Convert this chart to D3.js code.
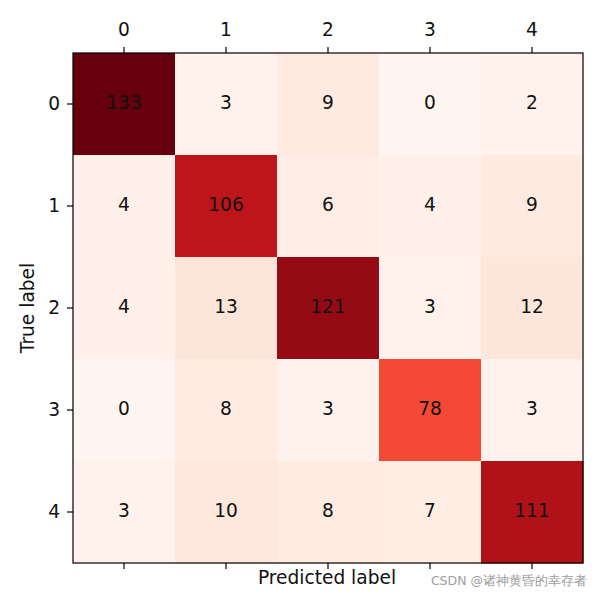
<!DOCTYPE html>
<html>
<head>
<meta charset="utf-8">
<script src="https://cdn.jsdelivr.net/npm/d3@7"></script>
<style>
  html, body { margin: 0; padding: 0; background: #fff; }
  svg { display: block; }
  text { font-family: "DejaVu Sans", sans-serif; }
</style>
</head>
<body>
<svg id="chart" width="603" height="596"></svg>
<script>
const classLabels = ["0", "1", "2", "3", "4"];
const matrix = [
  [133, 3, 9, 0, 2],
  [4, 106, 6, 4, 9],
  [4, 13, 121, 3, 12],
  [0, 8, 3, 78, 3],
  [3, 10, 8, 7, 111]
];
const xTitle = "Predicted label";
const yTitle = "True label";
const watermark = "CSDN @诸神黄昏的幸存者";

const svg = d3.select("#chart");
const plotLeft = 73, plotTop = 53, plotSize = 510;
const fontPx = "18.6px";

const x = d3.scaleBand().domain(classLabels).range([plotLeft, plotLeft + plotSize]);
const y = d3.scaleBand().domain(classLabels).range([plotTop, plotTop + plotSize]);

// matplotlib "Reds" colormap (linear segmented)
const redsStops = ["#fff5f0", "#fee0d2", "#fcbba1", "#fc9272", "#fb6a4a", "#ef3b2c", "#cb181d", "#a50f15", "#67000d"];
const vmax = d3.max(matrix.flat());
const color = d3.scaleLinear()
  .domain(redsStops.map((_, i) => i / (redsStops.length - 1) * vmax))
  .range(redsStops)
  .interpolate(d3.interpolateRgb);

const cells = [];
matrix.forEach((row, i) => row.forEach((v, j) => cells.push({ r: classLabels[i], c: classLabels[j], v })));

svg.append("g").selectAll("rect").data(cells).join("rect")
  .attr("x", d => x(d.c))
  .attr("y", d => y(d.r))
  .attr("width", x.bandwidth() + 0.5)
  .attr("height", y.bandwidth() + 0.5)
  .attr("fill", d => color(d.v));

svg.append("g").selectAll("text").data(cells).join("text")
  .attr("x", d => x(d.c) + x.bandwidth() / 2)
  .attr("y", d => y(d.r) + y.bandwidth() / 2 + 4.8)
  .attr("text-anchor", "middle")
  .attr("font-size", fontPx)
  .attr("fill", "#111")
  .text(d => d.v);

// frame
svg.append("rect")
  .attr("x", plotLeft).attr("y", plotTop).attr("width", plotSize).attr("height", plotSize)
  .attr("fill", "none").attr("stroke", "#000").attr("stroke-width", 1.2);

const tickStyle = g => {
  g.select(".domain").remove();
  g.selectAll(".tick line").attr("stroke", "#000").attr("stroke-width", 1.2);
  g.selectAll(".tick text").attr("font-family", "DejaVu Sans, sans-serif").attr("font-size", fontPx).attr("fill", "#111");
};

// top axis with labels
svg.append("g").attr("transform", `translate(0,${plotTop})`)
  .call(d3.axisTop(x).tickSize(6).tickPadding(11))
  .call(tickStyle);

// bottom axis, ticks only
svg.append("g").attr("transform", `translate(0,${plotTop + plotSize})`)
  .call(d3.axisBottom(x).tickSize(6).tickFormat(""))
  .call(tickStyle);

// left axis
svg.append("g").attr("transform", `translate(${plotLeft},0)`)
  .call(d3.axisLeft(y).tickSize(6).tickPadding(7))
  .call(tickStyle);

svg.append("text")
  .attr("x", plotLeft + plotSize / 2 - 1).attr("y", 584)
  .attr("text-anchor", "middle")
  .attr("font-size", fontPx)
  .attr("fill", "#111")
  .text(xTitle);

svg.append("text")
  .attr("transform", `translate(34,${plotTop + plotSize / 2}) rotate(-90)`)
  .attr("text-anchor", "middle")
  .attr("font-size", fontPx)
  .attr("fill", "#111")
  .text(yTitle);

svg.append("text")
  .attr("x", 587).attr("y", 585)
  .attr("text-anchor", "end")
  .attr("font-family", "'Noto Sans CJK SC', 'DejaVu Sans', sans-serif")
  .attr("font-size", "12.5px")
  .attr("fill", "#a0a0a0")
  .text(watermark);
</script>
</body>
</html>
